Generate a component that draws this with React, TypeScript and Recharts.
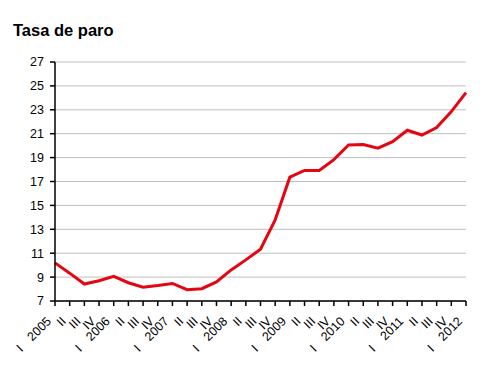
import { LineChart, Line, XAxis, YAxis, CartesianGrid } from 'recharts';

// Tasa de paro (EPA), trimestral
const periods = [
  'I 2005', 'II', 'III', 'IV',
  'I 2006', 'II', 'III', 'IV',
  'I 2007', 'II', 'III', 'IV',
  'I 2008', 'II', 'III', 'IV',
  'I 2009', 'II', 'III', 'IV',
  'I 2010', 'II', 'III', 'IV',
  'I 2011', 'II', 'III', 'IV',
  'I 2012',
];
const rates = [
  10.19, 9.33, 8.42, 8.7,
  9.07, 8.53, 8.16, 8.3,
  8.47, 7.95, 8.03, 8.6,
  9.6, 10.44, 11.33, 13.79,
  17.36, 17.92, 17.93, 18.83,
  20.05, 20.09, 19.79, 20.33,
  21.29, 20.89, 21.52, 22.85,
  24.44,
];
const yTicks = [7, 9, 11, 13, 15, 17, 19, 21, 23, 25, 27];

const data = periods.map((p, i) => ({ key: `${i}`, label: p, rate: rates[i] }));

const FONT = 'Arial, "Liberation Sans", sans-serif';

const QuarterTick = (props: any) => {
  const { x, y, index } = props;
  const parts = periods[index].split(' ');
  const ax = x - 3;
  const ay = y + 14;
  if (parts.length === 2) {
    return (
      <g>
        <text x={ax} y={ay} transform={`rotate(-45 ${ax} ${ay})`} textAnchor="end"
          fontSize={12.5} fontFamily={FONT} fill="#000">{parts[1]}</text>
        <text x={ax - 28} y={ay + 28} transform={`rotate(-45 ${ax - 28} ${ay + 28})`} textAnchor="end"
          fontSize={12.5} fontFamily={FONT} fill="#000">{parts[0]}</text>
      </g>
    );
  }
  return (
    <text x={ax} y={ay} transform={`rotate(-45 ${ax} ${ay})`} textAnchor="end"
      fontSize={12.5} fontFamily={FONT} fill="#000">{parts[0]}</text>
  );
};

const App = () => {
  return (
    <div style={{ position: 'absolute', left: 0, top: 0, width: 501, height: 371, background: '#fff' }}>
      <div
        style={{
          position: 'absolute', left: 13, top: 22, fontFamily: FONT, fontWeight: 'bold',
          fontSize: 16.5, lineHeight: '16px', color: '#000',
        }}
      >
        Tasa de paro
      </div>
      <LineChart width={501} height={371} data={data} margin={{ top: 62, right: 35, left: 10, bottom: 0 }}>
        <CartesianGrid vertical={false} stroke="#bfbfbf" strokeWidth={1} />
        <XAxis
          dataKey="key"
          interval={0}
          height={70}
          tick={<QuarterTick />}
          tickSize={5}
          axisLine={{ stroke: '#000', strokeWidth: 1.5 }}
          tickLine={{ stroke: '#000', strokeWidth: 1.5 }}
        />
        <YAxis
          width={45}
          domain={[7, 27]}
          ticks={yTicks}
          interval={0}
          tickSize={5}
          tickMargin={6}
          tick={{ fontSize: 12.5, fill: '#000', fontFamily: FONT }}
          axisLine={{ stroke: '#000', strokeWidth: 1.5 }}
          tickLine={{ stroke: '#000', strokeWidth: 1.5 }}
        />
        <Line
          type="linear"
          dataKey="rate"
          stroke="#e30613"
          strokeWidth={3}
          dot={false}
          isAnimationActive={false}
        />
      </LineChart>
    </div>
  );
};

export default App;
